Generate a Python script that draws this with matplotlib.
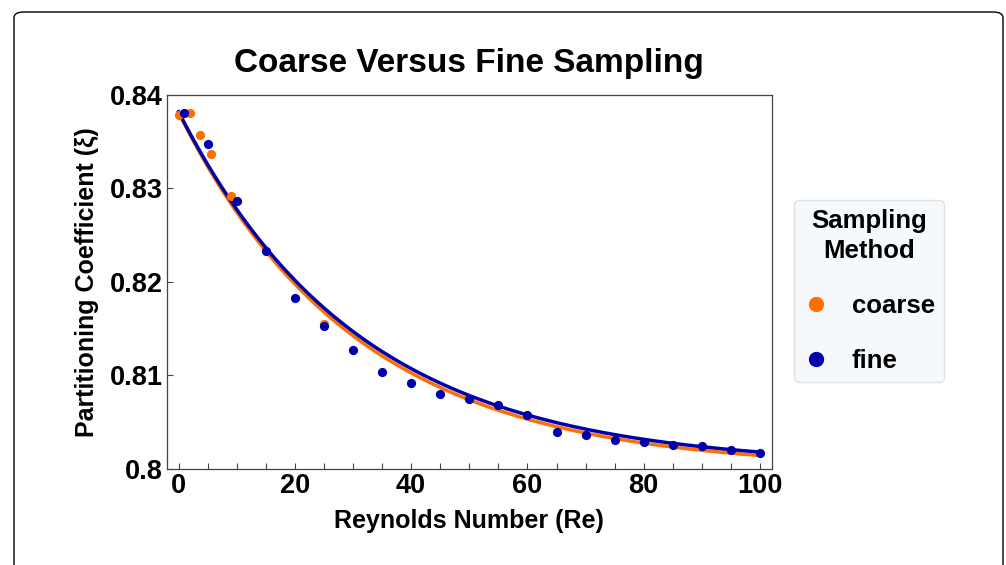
import numpy as np
import matplotlib
matplotlib.use("Agg")
import matplotlib.pyplot as plt
from matplotlib.patches import FancyBboxPatch
from matplotlib.lines import Line2D

plt.rcParams['font.family'] = ['Liberation Sans', 'DejaVu Sans']
plt.rcParams['font.weight'] = 'bold'

# ---- data ----
coarse_re = [0, 2, 3.6, 5.5, 9, 25]
coarse_xi = [0.8379, 0.8381, 0.8357, 0.8337, 0.8292, 0.8155]

fine_re = [1, 5, 10, 15, 20, 25, 30, 35, 40, 45, 50, 55, 60, 65, 70, 75, 80, 85, 90, 95, 100]
fine_xi = [0.8381, 0.8347, 0.8287, 0.8233, 0.8183, 0.8153, 0.8127, 0.8104, 0.8092, 0.8080,
           0.8075, 0.8068, 0.8058, 0.8040, 0.8036, 0.8031, 0.8029, 0.8026, 0.8025, 0.8020, 0.8017]

# fitted exponential-decay model parameters (offset, amplitude, decay length)
coarse_fit = (0.8000, 0.0381, 30.5)
fine_fit = (0.8003, 0.0379, 31.0)

xticks_major = [0, 20, 40, 60, 80, 100]
yticks = [0.80, 0.81, 0.82, 0.83, 0.84]
ytick_labels = ["0.8", "0.81", "0.82", "0.83", "0.84"]

ORANGE = '#FF6E00'
BLUE = '#0000AA'

fig = plt.figure(figsize=(10.06, 5.65), dpi=100)
ax = fig.add_axes([0.166, 0.170, 0.601, 0.662])

xs = np.linspace(0, 100, 400)
def model(p, x):
    c, a, t = p
    return c + a * np.exp(-x / t)

ax.plot(xs, model(coarse_fit, xs), color=ORANGE, lw=2.5, zorder=2)
ax.plot(xs, model(fine_fit, xs), color=BLUE, lw=2.5, zorder=3)
ax.scatter(coarse_re, coarse_xi, s=44, color=ORANGE, zorder=4, linewidths=0)
ax.scatter(fine_re, fine_xi, s=44, color=BLUE, zorder=5, linewidths=0)

ax.set_xlim(-2, 102)
ax.set_ylim(0.80, 0.84)
ax.set_xticks(np.arange(0, 101, 5))
ax.set_xticklabels([str(v) if v in xticks_major else "" for v in range(0, 101, 5)])
ax.set_yticks(yticks)
ax.set_yticklabels(ytick_labels)
ax.tick_params(direction='in', length=4, width=0.8, color='#444444',
               labelsize=19.5, pad=3)
for lbl in ax.get_xticklabels() + ax.get_yticklabels():
    lbl.set_fontweight('bold')
for s in ax.spines.values():
    s.set_color('#444444')
    s.set_linewidth(0.9)

ax.set_xlabel("Reynolds Number (Re)", fontsize=18, fontweight='bold', labelpad=7)
ax.set_ylabel("Partitioning Coefficient (ξ)", fontsize=18, fontweight='bold', labelpad=8)
fig.text(0.466, 0.887, "Coarse Versus Fine Sampling", ha='center', va='center',
         fontsize=24, fontweight='bold')

# legend
handles = [Line2D([], [], marker='o', ls='', color=ORANGE, markersize=10),
           Line2D([], [], marker='o', ls='', color=BLUE, markersize=10)]
leg = fig.legend(handles, ["coarse", "fine"], title="Sampling\nMethod",
                 loc='center', bbox_to_anchor=(0.8635, 0.485),
                 fontsize=18.5, title_fontproperties={'weight': 'bold', 'size': 18.5},
                 frameon=True, fancybox=True, labelspacing=1.2, handletextpad=0.9,
                 borderpad=0.35, handlelength=1.0)
leg._legend_box.align = 'center'
leg.get_frame().set_facecolor('#F4F8FC')
leg.get_frame().set_edgecolor('#D8DDE2')
for t in leg.get_texts():
    t.set_fontweight('bold')
leg.get_title().set_multialignment('center')
leg.get_title().set_linespacing(1.35)

# outer frame
frame = FancyBboxPatch((14 / 1006, -0.05), (1003 - 14) / 1006, 1.05 - 12 / 565,
                       boxstyle="round,pad=0,rounding_size=0.01",
                       transform=fig.transFigure, fill=False, ec='black', lw=1.0)
fig.patches.append(frame)

fig.savefig("out.png", dpi=100)
